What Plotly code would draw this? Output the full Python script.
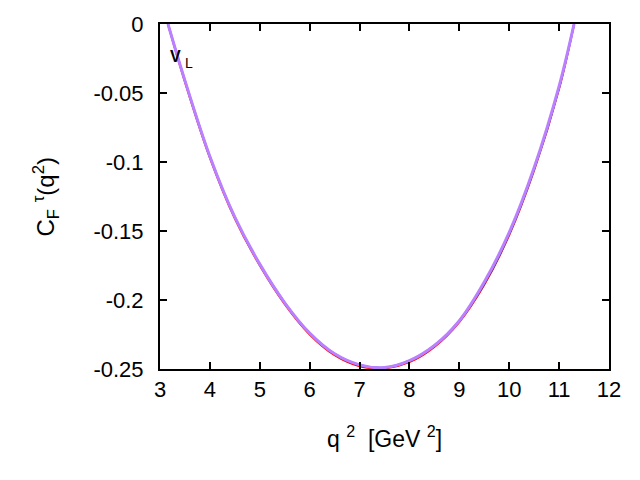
import plotly.graph_objects as go

q2 = [3.16, 3.5, 4.0, 4.5, 5.0, 5.5, 6.0, 6.5, 7.0, 7.5, 8.0, 8.5, 9.0, 9.5, 10.0, 10.5, 11.0, 11.3]
cf_red = [0.0, -0.042, -0.097, -0.141, -0.175, -0.203, -0.225, -0.240, -0.248, -0.2495, -0.245, -0.234, -0.216, -0.189, -0.153, -0.106, -0.047, 0.0]
cf_blue = [0.0, -0.041, -0.096, -0.140, -0.174, -0.202, -0.224, -0.239, -0.247, -0.249, -0.244, -0.233, -0.215, -0.188, -0.152, -0.105, -0.046, 0.0]
cf_purple = [0.0, -0.041, -0.096, -0.140, -0.174, -0.202, -0.224, -0.239, -0.247, -0.249, -0.244, -0.233, -0.215, -0.187, -0.151, -0.104, -0.045, 0.0]

xticks = [3, 4, 5, 6, 7, 8, 9, 10, 11, 12]
yticks = [0, -0.05, -0.1, -0.15, -0.2, -0.25]
ytick_labels = ["0", "-0.05", "-0.1", "-0.15", "-0.2", "-0.25"]

FONT = "Liberation Sans, Arial, sans-serif"

fig = go.Figure()
fig.add_trace(go.Scatter(x=q2, y=cf_red, mode="lines", line=dict(color="#ff0000", width=2, shape="spline")))
fig.add_trace(go.Scatter(x=q2, y=cf_blue, mode="lines", line=dict(color="#0060ad", width=2, shape="spline")))
fig.add_trace(go.Scatter(x=q2, y=cf_purple, mode="lines", line=dict(color="#bb80ff", width=3, shape="spline")))

# curve label V_L
fig.add_annotation(x=3.16, y=-0.0236, xref="x", yref="y", text="<b>V</b>", showarrow=False,
                   xanchor="left", yanchor="middle", font=dict(family=FONT, size=16, color="black"))
fig.add_annotation(x=3.46, y=-0.0285, xref="x", yref="y", text="L", showarrow=False,
                   xanchor="left", yanchor="middle", font=dict(family=FONT, size=14, color="black"))

# axis titles
fig.add_annotation(x=0.5, y=-0.197, xref="paper", yref="paper", showarrow=False,
                   text="q <sup>2</sup>  [GeV <sup>2</sup>]", xanchor="center", yanchor="middle",
                   font=dict(family=FONT, size=23, color="black"))
fig.add_annotation(x=-0.256, y=0.5, xref="paper", yref="paper", showarrow=False, textangle=-90,
                   text="C<sub>F</sub> <sup>τ</sup>(q<sup>2</sup>)", xanchor="center", yanchor="middle",
                   font=dict(family=FONT, size=24, color="black"))

axis_common = dict(showline=True, linecolor="black", linewidth=2, mirror="ticks", ticks="inside",
                   ticklen=7, tickwidth=1.5, tickcolor="black", showgrid=False, zeroline=False,
                   tickfont=dict(family=FONT, size=22, color="black"))

fig.update_xaxes(range=[3, 12], tickvals=xticks, **axis_common)
fig.update_yaxes(range=[-0.25, 0], tickvals=yticks, ticktext=ytick_labels, ticklabelstandoff=10, **axis_common)

fig.update_layout(width=640, height=480, margin=dict(l=160, r=31, t=19, b=111),
                  plot_bgcolor="white", paper_bgcolor="white", showlegend=False)

fig.write_html("out.html")
